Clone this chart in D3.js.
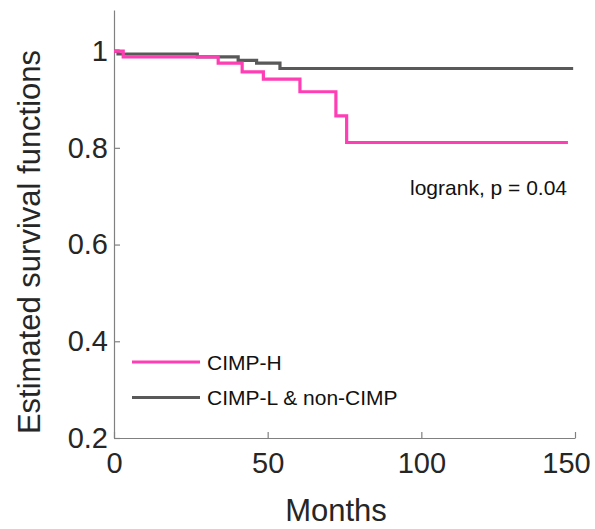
<!DOCTYPE html>
<html>
<head>
<meta charset="utf-8">
<script src="https://cdn.jsdelivr.net/npm/d3@7"></script>
<style>
  body { margin: 0; background: #fff; }
  svg { display: block; font-family: "Liberation Sans", Arial, sans-serif; }
</style>
</head>
<body>
<svg id="chart" width="595" height="529"></svg>
<script>
// Kaplan-Meier steps (months, survival)
const cimpHTimes = [0, 3, 33.9, 41.7, 48.6, 60.5, 72.2, 75.7, 147.7];
const cimpHSurv  = [1, 0.988, 0.975, 0.957, 0.942, 0.916, 0.866, 0.811, 0.811];

const cimpLTimes = [0, 1.3, 27.1, 40.4, 46.4, 54.0, 149.4];
const cimpLSurv  = [1, 0.994, 0.988, 0.981, 0.975, 0.964, 0.964];

const seriesNames = ["CIMP-H", "CIMP-L & non-CIMP"];
const xTicks = [0, 50, 100, 150];
const yTicks = [0.2, 0.4, 0.6, 0.8, 1];
const pValueText = "logrank, p = 0.04";

const pink = "#ff3db4";
const grey = "#595959";

const svg = d3.select("#chart");

const x = d3.scaleLinear().domain([0, 150]).range([114, 575]);
const y = d3.scaleLinear().domain([0.2, 1.085]).range([438, 10]);

// axes (matlab style: ticks pointing inward, no box)
const xAxis = svg.append("g")
  .attr("transform", `translate(0,${y(0.2)})`)
  .call(d3.axisBottom(x).tickValues(xTicks).tickSizeInner(-6).tickSizeOuter(0).tickPadding(14));

const yAxis = svg.append("g")
  .attr("transform", `translate(${x(0)},0)`)
  .call(d3.axisLeft(y).tickValues(yTicks).tickFormat(d3.format("~g"))
    .tickSizeInner(-6).tickSizeOuter(0).tickPadding(6));

[xAxis, yAxis].forEach(g => {
  g.select(".domain").attr("stroke", "#808080").attr("stroke-width", 1.2);
  g.selectAll(".tick line").attr("stroke", "#808080").attr("stroke-width", 1.2);
  g.selectAll(".tick text").attr("fill", "#262626")
    .style("font-size", "29px").style("font-family", "Liberation Sans, Arial, sans-serif");
});

// last x label sits a bit left so it stays inside the figure
xAxis.selectAll(".tick text")
  .filter(d => d === 150)
  .attr("x", -9);

// axis titles
svg.append("text")
  .attr("x", 336).attr("y", 521)
  .attr("text-anchor", "middle")
  .attr("fill", "#262626")
  .style("font-size", "31px")
  .text("Months");

svg.append("text")
  .attr("transform", "translate(40,242) rotate(-90)")
  .attr("text-anchor", "middle")
  .attr("fill", "#262626")
  .style("font-size", "31px")
  .text("Estimated survival functions");

// survival curves
const line = d3.line()
  .x(d => x(d[0]))
  .y(d => y(d[1]))
  .curve(d3.curveStepAfter);

const greyPts = d3.zip(cimpLTimes, cimpLSurv);
const pinkPts = d3.zip(cimpHTimes, cimpHSurv);

svg.append("path")
  .datum(greyPts)
  .attr("d", line)
  .attr("fill", "none")
  .attr("stroke", grey)
  .attr("stroke-width", 3.2);

svg.append("path")
  .datum(pinkPts)
  .attr("d", line)
  .attr("fill", "none")
  .attr("stroke", pink)
  .attr("stroke-width", 3.2);

// logrank annotation
svg.append("text")
  .attr("x", 410).attr("y", 195)
  .attr("fill", "#111")
  .style("font-size", "21px")
  .text(pValueText);

// legend
const legend = svg.append("g");
const legendColors = [pink, grey];
seriesNames.forEach((name, i) => {
  const ly = 362 + i * 35.5;
  legend.append("line")
    .attr("x1", 132).attr("x2", 200)
    .attr("y1", ly).attr("y2", ly)
    .attr("stroke", legendColors[i])
    .attr("stroke-width", 3.2);
  legend.append("text")
    .attr("x", 207).attr("y", ly)
    .attr("dy", "0.36em")
    .attr("fill", "#111")
    .style("font-size", "21px")
    .text(name);
});
</script>
</body>
</html>
